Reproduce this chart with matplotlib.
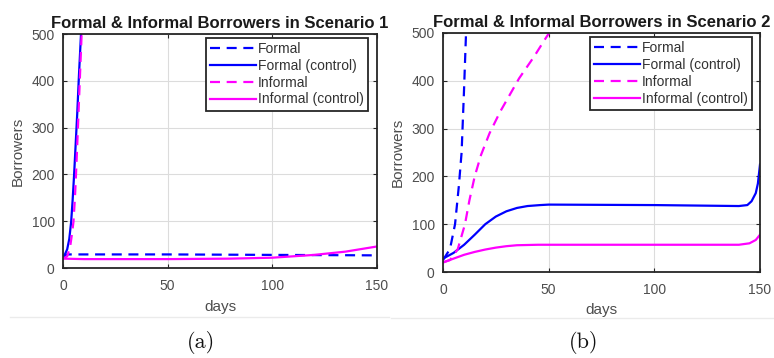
import numpy as np
import matplotlib
matplotlib.use("Agg")
import matplotlib.pyplot as plt
from matplotlib.lines import Line2D

plt.rcParams["font.family"] = ["Liberation Sans", "DejaVu Sans"]

# ---- Scenario 1 ----
s1_formal_days = [0, 1, 2, 50, 100, 150]
s1_formal = [22, 27, 29, 29, 28, 27]
s1_formal_ctrl_days = [0, 1, 2, 3, 3.9, 4.6, 5.3, 6.0, 6.8, 7.6, 8.6, 9.0]
s1_formal_ctrl = [24, 30, 40, 62, 99, 145, 199, 260, 330, 410, 500, 540]
s1_informal_days = [0, 2, 3.4, 4.2, 5.0, 5.7, 6.2, 6.7, 7.4, 8.1, 8.9, 9.3]
s1_informal = [20, 25, 45, 70, 99, 150, 199, 252, 330, 410, 500, 540]
s1_informal_ctrl_days = [0, 10, 50, 80, 100, 120, 135, 150]
s1_informal_ctrl = [20, 19, 19, 20, 22, 28, 35, 46]

# ---- Scenario 2 ----
s2_formal_days = [0, 3.3, 5.7, 7.5, 8.8, 9.9, 10.9, 11.2]
s2_formal = [25, 48, 100, 180, 250, 375, 500, 540]
s2_formal_ctrl_days = [0, 5, 10, 15, 20, 25, 30, 35, 40, 46, 50, 100, 140, 144, 146, 148, 149, 150]
s2_formal_ctrl = [28, 40, 57, 78, 100, 116, 127, 134, 138, 140, 141, 140, 138, 140, 148, 165, 185, 225]
s2_informal_days = [0, 3.3, 5, 7, 10.4, 12.5, 15, 18, 22, 27, 36, 43, 49, 51]
s2_informal = [20, 25, 35, 48, 100, 150, 200, 245, 290, 335, 405, 450, 492, 505]
s2_informal_ctrl_days = [0, 5, 10, 15, 20, 25, 30, 35, 45, 140, 145, 148, 150]
s2_informal_ctrl = [20, 28, 36, 42, 47, 51, 54, 56, 57, 57, 60, 67, 78]

labels = ["Formal", "Formal (control)", "Informal", "Informal (control)"]
xticks = [0, 50, 100, 150]
yticks = [0, 100, 200, 300, 400, 500]

BLUE = "#0000ff"
MAGENTA = "#ff00ff"
TXT = "#4d4d4d"
EDGE = "#262626"

fig = plt.figure(figsize=(7.74, 3.58), dpi=100)
fig.patch.set_facecolor("white")

W, H = 774, 358


def axes_px(x0, x1, y0, y1):
    return fig.add_axes([x0 / W, 1 - y1 / H, (x1 - x0) / W, (y1 - y0) / H])


def style(ax, title, legend_anchor, ylab_x, xlab_y):
    ax.set_xlim(0, 150)
    ax.set_ylim(0, 500)
    ax.set_xticks(xticks)
    ax.set_yticks(yticks)
    ax.grid(True, color="#dcdcdc", linewidth=0.8)
    ax.set_axisbelow(True)
    for sp in ax.spines.values():
        sp.set_color(EDGE)
        sp.set_linewidth(1.3)
    ax.tick_params(direction="in", length=3, width=0.8, color=EDGE,
                   top=True, right=True, labelsize=10, labelcolor=TXT)
    ax.tick_params(axis="x", pad=8)
    ax.tick_params(axis="y", pad=6)
    ax.set_title(title, fontsize=12, fontweight="bold", color="#1a1a1a", pad=4)
    ax.set_xlabel("days", fontsize=11, color=TXT)
    ax.set_ylabel("Borrowers", fontsize=11, color=TXT)
    ax.xaxis.set_label_coords(0.5, xlab_y)
    ax.yaxis.set_label_coords(ylab_x, 0.5)
    leg = ax.legend(loc="upper right", bbox_to_anchor=legend_anchor, borderaxespad=0,
                    fontsize=10, handlelength=3.3, handletextpad=0.15,
                    labelspacing=0.2, borderpad=0.3, fancybox=False,
                    framealpha=1, labelcolor="#333333")
    leg.get_frame().set_edgecolor(EDGE)
    leg.get_frame().set_linewidth(1.3)


dash = (0, (4.5, 3))
lw = 1.6

ax1 = axes_px(63, 377, 34, 268)
ax1.plot(s1_formal_days, s1_formal, color=BLUE, lw=lw, linestyle=dash, label=labels[0])
ax1.plot(s1_formal_ctrl_days, s1_formal_ctrl, color=BLUE, lw=lw, label=labels[1])
ax1.plot(s1_informal_days, s1_informal, color=MAGENTA, lw=lw, linestyle=dash, label=labels[2])
ax1.plot(s1_informal_ctrl_days, s1_informal_ctrl, color=MAGENTA, lw=lw, label=labels[3])
style(ax1, "Formal & Informal Borrowers in Scenario 1", (0.971, 0.983), -0.121, -0.137)

ax2 = axes_px(443, 760, 33, 272)
ax2.plot(s2_formal_days, s2_formal, color=BLUE, lw=lw, linestyle=dash, label=labels[0])
ax2.plot(s2_formal_ctrl_days, s2_formal_ctrl, color=BLUE, lw=lw, label=labels[1])
ax2.plot(s2_informal_days, s2_informal, color=MAGENTA, lw=lw, linestyle=dash, label=labels[2])
ax2.plot(s2_informal_ctrl_days, s2_informal_ctrl, color=MAGENTA, lw=lw, label=labels[3])
style(ax2, "Formal & Informal Borrowers in Scenario 2", (0.975, 0.983), -0.12, -0.130)

# thin separators under each panel and sub-figure captions
fig.add_artist(Line2D([10 / W, 389 / W], [1 - 317 / H] * 2, color="#ebebeb", lw=1))
fig.add_artist(Line2D([391 / W, 773 / W], [1 - 318 / H] * 2, color="#ebebeb", lw=1))
fig.text(201 / W, 1 - 343 / H, "(a)", family="cmr10", fontsize=16,
         ha="center", va="center", color="#111111")
fig.text(583.5 / W, 1 - 343 / H, "(b)", family="cmr10", fontsize=16,
         ha="center", va="center", color="#111111")

fig.savefig("out.png", dpi=100, facecolor="white")
